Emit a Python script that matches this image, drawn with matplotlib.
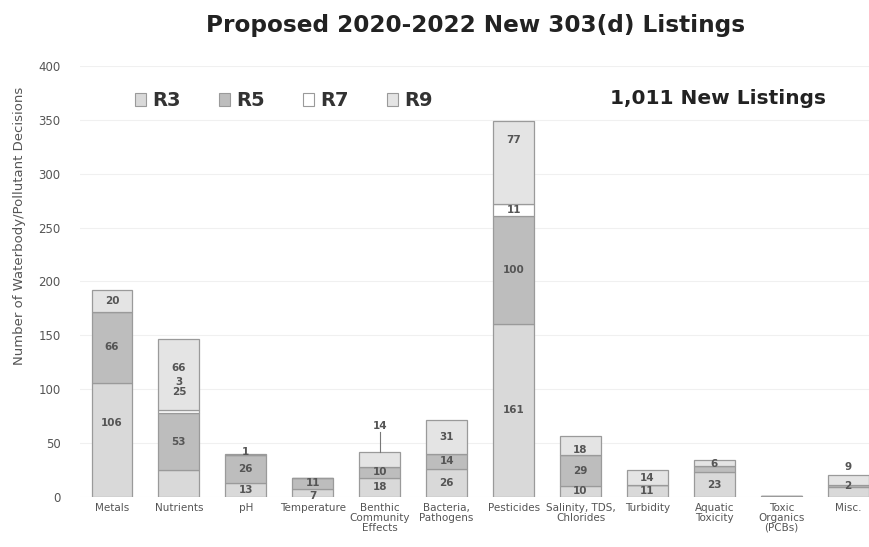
import matplotlib
matplotlib.use("Agg")
import matplotlib.pyplot as plt
from matplotlib.patches import Patch
import numpy as np

categories = ["Metals", "Nutrients", "pH", "Temperature", "Benthic\nCommunity\nEffects",
              "Bacteria,\nPathogens", "Pesticides", "Salinity, TDS,\nChlorides", "Turbidity",
              "Aquatic\nToxicity", "Toxic\nOrganics\n(PCBs)", "Misc."]
series_names = ["R3", "R5", "R7", "R9"]
r3 = [106, 25, 13, 7, 18, 26, 161, 10, 11, 23, 1, 9]
r5 = [66, 53, 26, 11, 10, 14, 100, 29, 0, 6, 0, 2]
r7 = [0, 3, 0, 0, 0, 0, 11, 0, 0, 0, 0, 0]
r9 = [20, 66, 1, 0, 14, 31, 77, 18, 14, 5, 0, 9]
yticks = [0, 50, 100, 150, 200, 250, 300, 350, 400]

colores = ["#d9d9d9", "#bdbdbd", "#ffffff", "#e4e4e4"]
borde = "#9a9a9a"
texto = "#555555"

fig = plt.figure(figsize=(8.69, 5.47), dpi=100, facecolor="white")
ax = fig.add_axes([0.092, 0.0914, 0.908, 0.788])

x = np.arange(len(categories))
datos = [r3, r5, r7, r9]
base = np.zeros(len(categories))
for i, serie in enumerate(datos):
    vals = np.array(serie, dtype=float)
    ax.bar(x, vals, bottom=base, width=0.61, color=colores[i], edgecolor=borde,
           linewidth=0.9, zorder=2)
    base = base + vals

# etiquetas: centro del segmento, con algunas movidas como en el original
mover = {(1, 3): 120, (1, 2): 107, (1, 0): 97, (0, 0): 69, (6, 3): 331,
         (2, 3): 42, (3, 1): 13, (3, 0): 1, (7, 3): 44, (7, 0): 6,
         (4, 3): 66, (11, 3): 28, (9, 1): 31}
ocultar = {(10, 0), (9, 3), (11, 0)}
abajo = np.zeros(len(categories))
for i, serie in enumerate(datos):
    for j, v in enumerate(serie):
        if v > 0 and (j, i) not in ocultar:
            yy = mover.get((j, i), abajo[j] + v / 2)
            ax.text(x[j], yy, str(v), ha="center", va="center", fontsize=7.5,
                    fontweight="bold", color=texto, zorder=4)
        abajo[j] += v

# linea guia de Benthic
ax.plot([x[4], x[4]], [base[4], 60], color="#777777", lw=0.8, zorder=3)

ax.set_xlim(-0.478, 11.31)
ax.set_ylim(0, 400)
ax.set_yticks(yticks)
ax.set_xticks(x)
ax.set_xticklabels(categories, fontsize=7.5, color="#444444", linespacing=1.0)
ax.tick_params(axis="both", length=0, labelsize=8.5, colors="#555555")
ax.tick_params(axis="y", pad=14)
ax.tick_params(axis="x", pad=4, labelsize=7.5)
for s in ax.spines.values():
    s.set_visible(False)
ax.grid(axis="y", color="#f0f0f0", lw=0.8, zorder=0)
ax.set_axisbelow(True)
ax.set_ylabel("Number of Waterbody/Pollutant Decisions", fontsize=9.5, color="#555555",
              labelpad=2)
ax.yaxis.set_label_coords(-0.068, 0.63)

fig.suptitle("Proposed 2020-2022 New 303(d) Listings", x=0.547, y=0.975,
             fontsize=16.7, fontweight="bold", color="#222222")

handles = [Patch(facecolor=c, edgecolor=borde, lw=0.8) for c in colores]
fig.legend(handles, series_names, loc="upper left", bbox_to_anchor=(0.135, 0.865),
           ncol=4, frameon=False, handlelength=0.6, handleheight=0.6,
           handletextpad=0.3, columnspacing=1.95,
           prop={"size": 14, "weight": "bold"}, labelcolor="#333333")

fig.text(0.826, 0.82, "1,011 New Listings", ha="center", va="center", fontsize=14.5,
         fontweight="bold", color="#222222")

fig.savefig("out.png", dpi=100, facecolor="white")
